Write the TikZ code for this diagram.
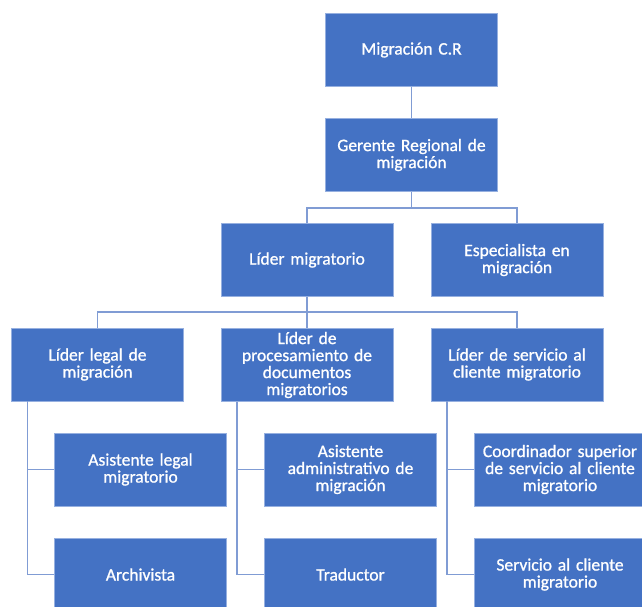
\documentclass[tikz,border=0pt]{standalone}
\usepackage{fontspec}
\setmainfont{Carlito}
\newfontfamily\cajafont[FakeBold=1]{Carlito}
\usetikzlibrary{calc}
\definecolor{cajaazul}{RGB}{68,114,196}
\definecolor{bordeazul}{RGB}{150,176,224}
\definecolor{lineaazul}{RGB}{128,156,212}
\tikzset{
	puesto/.style={rectangle, fill=cajaazul, draw=bordeazul, line width=0.8pt,
		minimum width=172pt, minimum height=73pt, text width=168pt, align=center,
		text=white, font=\cajafont\fontsize{17.5}{17}\selectfont, inner sep=0pt},
	enlace/.style={draw=lineaazul, line width=1.4pt}
}
\newcommand{\puesto}[4] % name, x, y, text
{
	\node[puesto] (#1) at (#2,#3) {#4};
}

\begin{document}
\begin{tikzpicture}[x=1pt, y=-1pt]
	% page: 642 x 607, y grows downwards
	\useasboundingbox (0,0) rectangle (642,607);
	\clip (0,0) rectangle (642,607);

	% joints of the top branches
	\coordinate (b1) at (411.5,208);
	\coordinate (b2) at (307,312);

	% top two levels
	\puesto{mig}{411.5}{50}{Migración C.R};
	\puesto{ger}{411.5}{155}{Gerente Regional de\\migración};

	% second level
	\puesto{lmig}{307}{260}{Líder migratorio};
	\puesto{esp}{517}{260}{Especialista en\\migración};

	% third level
	\puesto{lleg}{97.5}{364.5}{Líder legal de\\migración};
	\puesto{lproc}{307}{365}{Líder de\\procesamiento de\\documentos\\migratorios};
	\puesto{lserv}{517}{364.5}{Líder de servicio al\\cliente migratorio};

	% fourth level
	\puesto{asleg}{140.5}{469.5}{Asistente legal\\migratorio};
	\puesto{asadm}{350.5}{469.5}{Asistente\\administrativo de\\migración};
	\puesto{coord}{560}{469.5}{Coordinador superior\\de servicio al cliente\\migratorio};

	% fifth level
	\puesto{arch}{140.5}{574.5}{Archivista};
	\puesto{trad}{350.5}{574.5}{Traductor};
	\puesto{serv}{560}{574.5}{Servicio al cliente\\migratorio};

	% trunks of the side branches
	\coordinate (t1) at ($(lleg.south west)+(16.5,0)$);
	\coordinate (t2) at ($(lproc.south west)+(16.5,0)$);
	\coordinate (t3) at ($(lserv.south west)+(16.5,0)$);

	% connectors
	\path[enlace] (mig.south) -- (ger.north);
	\path[enlace] (ger.south) -- (b1);
	\path[enlace] (lmig.north) |- (b1) -| (esp.north);
	\path[enlace] (lmig.south) -- (b2);
	\path[enlace] (lleg.north) |- (b2) -| (lserv.north);
	\path[enlace] (b2) -- (lproc.north);
	\path[enlace] (t1) |- (asleg.west);
	\path[enlace] (t1) |- (arch.west);
	\path[enlace] (t2) |- (asadm.west);
	\path[enlace] (t2) |- (trad.west);
	\path[enlace] (t3) |- (coord.west);
	\path[enlace] (t3) |- (serv.west);
\end{tikzpicture}
\end{document}
